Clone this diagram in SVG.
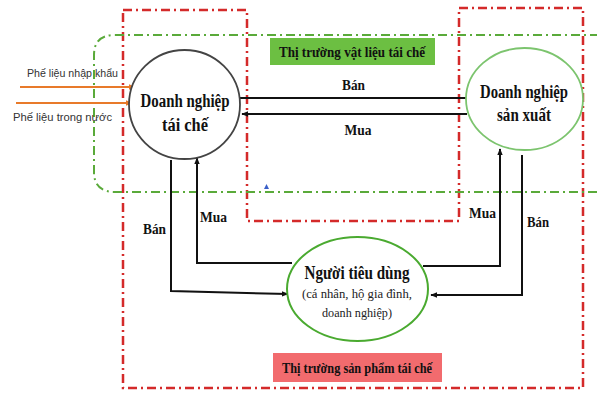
<svg xmlns="http://www.w3.org/2000/svg" width="599" height="395" viewBox="0 0 599 395">
<defs>
<style>
.red{fill:none;stroke:#d42a2a;stroke-width:2.5;stroke-dasharray:9 4 2 4}
.grn{fill:none;stroke:#5aaa3a;stroke-width:2;stroke-dasharray:9 4 2 4}
.ln{fill:none;stroke:#111;stroke-width:2}
.or{fill:none;stroke:#e87a2a;stroke-width:2.2}
.b{font-family:"Liberation Serif",serif;font-weight:bold;fill:#111;text-anchor:middle}
.s{font-family:"Liberation Serif",serif;fill:#222;text-anchor:middle;font-size:13px}
.sans{font-family:"Liberation Sans",Arial,sans-serif;fill:#333;font-size:11.5px}
</style>
<marker id="ah" viewBox="0 0 10 10" refX="9" refY="5" markerWidth="7" markerHeight="7" orient="auto" markerUnits="userSpaceOnUse"><path d="M0,1 L10,5 L0,9 z" fill="#111"/></marker>
<marker id="ao" viewBox="0 0 10 10" refX="9" refY="5" markerWidth="7" markerHeight="7" orient="auto" markerUnits="userSpaceOnUse"><path d="M0,1 L10,5 L0,9 z" fill="#e87a2a"/></marker>
</defs>
<rect width="599" height="395" fill="#fff"/>
<g id="boundaries">
<path class="red" d="M123,10 H247 V221 H459 V8 H583 V388 H123 Z"/>
<path class="grn" d="M115,35 H597 M597,192 H115 Q94,192 94,172 V55 Q94,35 115,35"/>
</g>
<g id="label-vatlieu">
<rect x="270" y="38" width="165" height="27" fill="#6cbf42"/>
<text class="b" x="352" y="57" font-size="15" textLength="146" lengthAdjust="spacingAndGlyphs">Thị trường vật liệu tái chế</text>
</g>
<g id="label-sanpham">
<rect x="273" y="353" width="169" height="29" fill="#f26b6e"/>
<text class="b" x="357" y="373" font-size="15" textLength="150" lengthAdjust="spacingAndGlyphs">Thị trường sản phẩm tái chế</text>
</g>
<g id="connectors">
<line class="or" x1="20" y1="87" x2="135" y2="87" marker-end="url(#ao)"/>
<line class="or" x1="16" y1="103" x2="132" y2="103" marker-end="url(#ao)"/>
<line class="ln" x1="240" y1="98" x2="472" y2="98" marker-end="url(#ah)"/>
<line class="ln" x1="467" y1="114" x2="242" y2="114" marker-end="url(#ah)"/>
<polyline class="ln" points="171,160 171,291 288,294" marker-end="url(#ah)"/>
<polyline class="ln" points="292,263 197,263 197,158" marker-end="url(#ah)"/>
<polyline class="ln" points="423,266 500,266 500,149" marker-end="url(#ah)"/>
<polyline class="ln" points="522,155 522,295 431,295" marker-end="url(#ah)"/>
<text class="b" x="353.5" y="90" font-size="15" textLength="23" lengthAdjust="spacingAndGlyphs">Bán</text>
<text class="b" x="358" y="135" font-size="15" textLength="27" lengthAdjust="spacingAndGlyphs">Mua</text>
<text class="b" x="154.5" y="234" font-size="15" textLength="23" lengthAdjust="spacingAndGlyphs">Bán</text>
<text class="b" x="213.5" y="222" font-size="15" textLength="27" lengthAdjust="spacingAndGlyphs">Mua</text>
<text class="b" x="482.5" y="218" font-size="15" textLength="27" lengthAdjust="spacingAndGlyphs">Mua</text>
<text class="b" x="538" y="227" font-size="15" textLength="22" lengthAdjust="spacingAndGlyphs">Bán</text>
<text class="sans" x="27" y="77" textLength="91" lengthAdjust="spacingAndGlyphs">Phế liệu nhập khẩu</text>
<text class="sans" x="13" y="121" textLength="99" lengthAdjust="spacingAndGlyphs">Phế liệu trong nước</text>
</g>
<g id="node-taiche">
<ellipse cx="184.5" cy="104.5" rx="55.5" ry="54.5" fill="#fff" stroke="#444" stroke-width="1.8"/>
<text class="b" x="185" y="107" font-size="18" textLength="89" lengthAdjust="spacingAndGlyphs">Doanh nghiệp</text>
<text class="b" x="185" y="131" font-size="18" textLength="46" lengthAdjust="spacingAndGlyphs">tái chế</text>
</g>
<g id="node-sanxuat">
<ellipse cx="524.5" cy="99" rx="58.5" ry="51" fill="#fff" stroke="#7cc46e" stroke-width="1.8"/>
<text class="b" x="524" y="98" font-size="18" textLength="88" lengthAdjust="spacingAndGlyphs">Doanh nghiệp</text>
<text class="b" x="524" y="121" font-size="18" textLength="54" lengthAdjust="spacingAndGlyphs">sản xuất</text>
</g>
<g id="node-nguoitieudung">
<ellipse cx="357.5" cy="289" rx="70.5" ry="52" fill="#fff" stroke="#4aaa30" stroke-width="2"/>
<text class="b" x="357" y="279" font-size="19" textLength="105" lengthAdjust="spacingAndGlyphs">Người tiêu dùng</text>
<text class="s" x="357" y="298" textLength="110" lengthAdjust="spacingAndGlyphs">(cá nhân, hộ gia đình,</text>
<text class="s" x="357" y="317" textLength="70" lengthAdjust="spacingAndGlyphs">doanh nghiệp)</text>
</g>
<path d="M264,189 L266.5,184 L269,189 Z" fill="#3a5fc8"/>
</svg>
